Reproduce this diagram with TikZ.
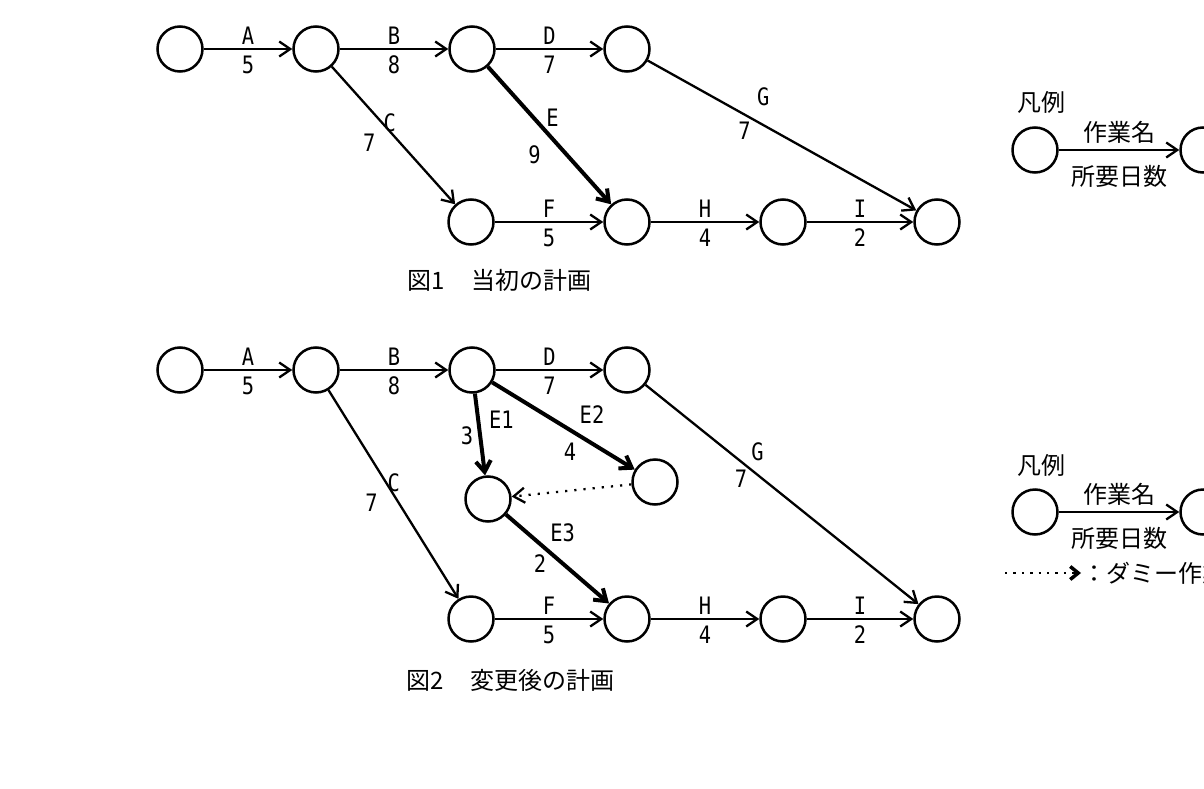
\documentclass[tikz,border=0pt]{standalone}
\usepackage{fontspec}
\setmainfont{Noto Sans CJK JP}
\newfontfamily\lblfont[FakeStretch=0.85]{DejaVu Sans Mono}
\usetikzlibrary{arrows.meta,positioning}

\begin{document}
\begin{tikzpicture}[x=1pt,y=-1pt,
    ev/.style={circle, draw, line width=2.5pt, minimum size=45pt, inner sep=0pt},
    act/.style={line width=2.3pt, -{Straight Barb[length=11pt,width=15pt]}},
    crit/.style={act, line width=4pt},
    dum/.style={act, dash pattern=on 2.2pt off 7pt},
    lbl/.style={font=\lblfont\fontsize{24}{24}\selectfont, inner sep=0pt},
    jp/.style={font=\fontsize{24}{24}\selectfont, inner sep=0pt},
    figcap/.style={jp, anchor=west, text height=17pt, text depth=2pt}
    ]
    \useasboundingbox (0,0) rectangle (1204,789);
    % Figure 1 ---------------------------------------------------------
        \node[ev] (a1) at (180,49) {};
        \node[ev] (a2) at (316,49) {};
        \node[ev] (a3) at (472,49) {};
        \node[ev] (a4) at (627,49) {};
        \node[ev] (a5) at (471,222) {};
        \node[ev] (a6) at (627,222) {};
        \node[ev] (a7) at (783,222) {};
        \node[ev] (a8) at (937,222) {};
        \draw[act]  (a1) -- node[lbl,above=3.5pt]{A} node[lbl,below=5.5pt]{5} (a2);
        \draw[act]  (a2) -- node[lbl,above=3.5pt]{B} node[lbl,below=5.5pt]{8} (a3);
        \draw[act]  (a3) -- node[lbl,above=3.5pt]{D} node[lbl,below=5.5pt]{7} (a4);
        \draw[act]  (a2) -- node[lbl,pos=.41,anchor=west]{C} node[lbl,pos=.55,left=23pt]{7} (a5);
        \draw[crit] (a3) -- node[lbl,pos=.37,right=11pt]{E} node[lbl,pos=.64,left=24pt]{9} (a6);
        \draw[act]  (a4) -- node[lbl,pos=.43,above=18pt]{G} node[lbl,pos=.36,below=6pt]{7} (a8);
        \draw[act]  (a5) -- node[lbl,above=3.5pt]{F} node[lbl,below=5.5pt]{5} (a6);
        \draw[act]  (a6) -- node[lbl,above=3.5pt]{H} node[lbl,below=5.5pt]{4} (a7);
        \draw[act]  (a7) -- node[lbl,above=3.5pt]{I} node[lbl,below=5.5pt]{2} (a8);
        \node[figcap] (cap1) at (407,281.5) {図1\kern3pt　当初の計画};
    % Legend 1
        \node[jp] (key1) at (1041,102) {凡例};
        \node[ev] (k1) at (1035,150) {};
        \node[ev] (k2) at (1203,150) {};
        \draw[act] (k1) -- node[jp,above=5pt]{作業名} node[jp,below=14pt]{所要日数} (k2);
    % Figure 2 ---------------------------------------------------------
        \node[ev] (b1) at (180,370) {};
        \node[ev] (b2) at (316,370) {};
        \node[ev] (b3) at (472,370) {};
        \node[ev] (b4) at (627,370) {};
        \node[ev] (b5) at (471,619) {};
        \node[ev] (b6) at (627,619) {};
        \node[ev] (b7) at (783,619) {};
        \node[ev] (b8) at (937,619) {};
        \node[ev] (b9) at (488,499) {};
        \node[ev] (b10) at (655,482) {};
        \draw[act]  (b1) -- node[lbl,above=3.5pt]{A} node[lbl,below=5.5pt]{5} (b2);
        \draw[act]  (b2) -- node[lbl,above=3.5pt]{B} node[lbl,below=5.5pt]{8} (b3);
        \draw[act]  (b3) -- node[lbl,above=3.5pt]{D} node[lbl,below=5.5pt]{7} (b4);
        \draw[act]  (b2) -- node[lbl,pos=.445,anchor=west]{C} node[lbl,pos=.54,left=20pt]{7} (b5);
        \draw[crit] (b3) -- node[lbl,pos=.32,right=9pt]{E1} node[lbl,pos=.52,left=5pt]{3} (b9);
        \draw[crit] (b3) -- node[lbl,pos=.7,above=18pt]{E2} node[lbl,pos=.545,below=11pt]{4} (b10);
        \draw[dum]  (b10) -- (b9);
        \draw[crit] (b9) -- node[lbl,pos=.55,above=20pt]{E3} node[lbl,pos=.33,below=9pt]{2} (b6);
        \draw[act]  (b4) -- node[lbl,pos=.41,above=13pt]{G} node[lbl,pos=.35,below=7pt]{7} (b8);
        \draw[act]  (b5) -- node[lbl,above=3.5pt]{F} node[lbl,below=5.5pt]{5} (b6);
        \draw[act]  (b6) -- node[lbl,above=3.5pt]{H} node[lbl,below=5.5pt]{4} (b7);
        \draw[act]  (b7) -- node[lbl,above=3.5pt]{I} node[lbl,below=5.5pt]{2} (b8);
        \node[figcap] (cap2) at (406,681.5) {図2\kern3pt　変更後の計画};
    % Legend 2
        \node[jp] (key2) at (1041,465) {凡例};
        \node[ev] (k3) at (1035,512) {};
        \node[ev] (k4) at (1203,512) {};
        \draw[act] (k3) -- node[jp,above=5pt]{作業名} node[jp,below=14pt]{所要日数} (k4);
        \coordinate (d1) at (1005,573);
        \coordinate (d2) at (1081,573);
        \draw[dum, dash pattern=on 2.4pt off 6pt,
              -{Straight Barb[length=8pt,width=13pt,line width=3.5pt]}] (d1) -- (d2);
        \node[jp,anchor=west] (dnote) at (1082,573) {：ダミー作業};
\end{tikzpicture}
\end{document}
